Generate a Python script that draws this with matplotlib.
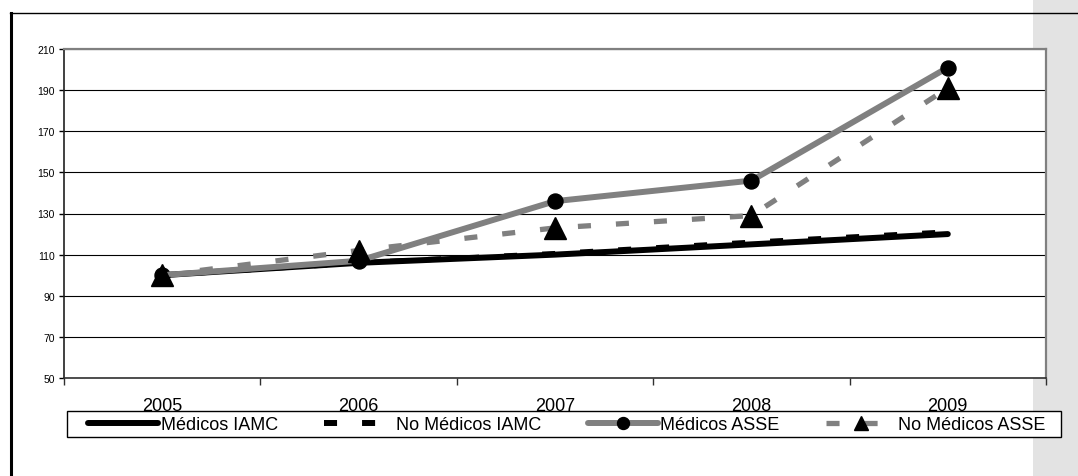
import matplotlib
matplotlib.use("Agg")
import matplotlib.pyplot as plt
from matplotlib.lines import Line2D
from matplotlib.patches import Rectangle
from matplotlib.ticker import FixedLocator, NullFormatter

plt.rcParams['font.family'] = ['Liberation Sans', 'DejaVu Sans']
plt.rcParams['lines.scale_dashes'] = False

# Índice de salarios (base 2005 = 100)
years = ['2005', '2006', '2007', '2008', '2009']
medicos_iamc = [100, 106, 110, 115, 120]
no_medicos_iamc = [100, 106, 110.5, 116, 121]
medicos_asse = [100, 107, 136, 146, 201]
no_medicos_asse = [100, 112, 123, 129, 191]
y_ticks = [50, 70, 90, 110, 130, 150, 170, 190, 210]

W, H = 1078, 477
fig = plt.figure(figsize=(W / 100, H / 100), dpi=100)
fig.patch.set_facecolor('white')

# panel gris lateral y marco del documento
fig.add_artist(Rectangle((1033 / W, 0), (W - 1033) / W, 1, transform=fig.transFigure,
                         facecolor='#e3e3e3', edgecolor='none', zorder=-5))
fig.add_artist(Line2D([10 / W, 1], [1 - 13.5 / H] * 2, transform=fig.transFigure,
                      color='black', lw=1.0, zorder=10))
fig.add_artist(Line2D([10.5 / W] * 2, [0, 1 - 13.5 / H], transform=fig.transFigure,
                      color='black', lw=2.2, zorder=10, solid_capstyle='projecting'))

ax = fig.add_axes([64 / W, 1 - 379 / H, (1046 - 64) / W, (379 - 50) / H])
ax.set_facecolor('white')

x = list(range(len(years)))
dash = (0, (9.4, 18.0))
GRAY = '#808080'

ax.plot(x, medicos_iamc, color='black', lw=4.3, solid_capstyle='round', zorder=3)
ax.plot(x, no_medicos_iamc, color='black', lw=3.8, linestyle=dash, zorder=4)
ax.plot(x, medicos_asse, color=GRAY, lw=4.3, solid_capstyle='round',
        marker='o', ms=10.8, mfc='black', mec='black', zorder=5)
ax.plot(x, no_medicos_asse, color=GRAY, lw=3.8, linestyle=dash,
        marker='^', ms=15.8, mfc='black', mec='black', zorder=6)

ax.set_xlim(-0.5, len(years) - 0.5)
ax.set_ylim(50, 210)
ax.set_yticks(y_ticks)
ax.yaxis.grid(True, color='black', lw=0.8)
ax.set_axisbelow(True)

ax.set_xticks(x)
ax.set_xticklabels(years, fontsize=13)
ax.xaxis.set_minor_locator(FixedLocator([i - 0.5 for i in range(len(years) + 1)]))
ax.xaxis.set_minor_formatter(NullFormatter())
ax.tick_params(axis='x', which='major', length=0, pad=14)
ax.tick_params(axis='x', which='minor', length=5, width=1, color='#303030')
ax.tick_params(axis='y', length=3.5, width=1, labelsize=7.5, pad=3, color='black')

for side in ('top', 'right'):
    ax.spines[side].set_color(GRAY)
    ax.spines[side].set_linewidth(1.6)
ax.spines['left'].set_color('#202020')
ax.spines['left'].set_linewidth(1.2)
ax.spines['bottom'].set_color('#303030')
ax.spines['bottom'].set_linewidth(1.2)

# recuadro de la leyenda
fig.add_artist(Rectangle((67 / W, 1 - 438 / H), (1061 - 67) / W, 26 / H,
                         transform=fig.transFigure, facecolor='white',
                         edgecolor='black', lw=1.0, zorder=7))

handles = [
    Line2D([], [], color='black', lw=4.3, solid_capstyle='round'),
    Line2D([], [], color='black', lw=4.3, linestyle=dash),
    Line2D([], [], color=GRAY, lw=4.3, solid_capstyle='round',
           marker='o', ms=8.6, mfc='black', mec='black'),
    Line2D([], [], color=GRAY, lw=3.8, linestyle=dash,
           marker='^', ms=10.0, mfc='black', mec='black'),
]
labels = ['Médicos IAMC', 'No Médicos IAMC', 'Médicos ASSE', 'No Médicos ASSE']
leg = fig.legend(handles, labels, ncol=4, loc='center left',
                 bbox_to_anchor=(88 / W, 1 - 425.5 / H),
                 borderaxespad=0, borderpad=0, handlelength=3.9, handletextpad=0.12,
                 columnspacing=2.55, fontsize=13, frameon=False, handleheight=0.7)
leg.set_zorder(8)

fig.savefig('out.png', dpi=100)
